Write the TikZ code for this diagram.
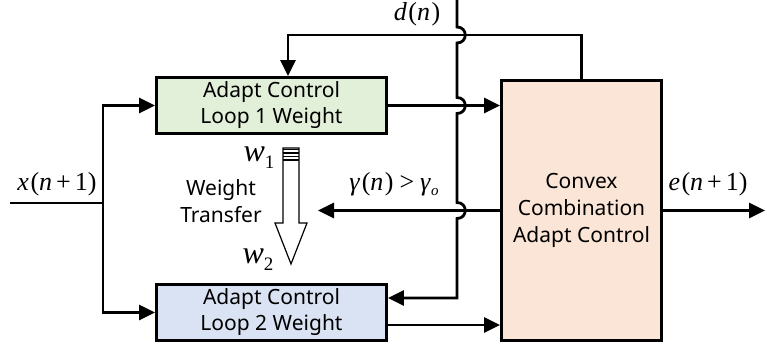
\documentclass[tikz,border=0pt]{standalone}
\usepackage{fontspec}
\setmainfont{Noto Sans}
\newfontfamily\tms{Liberation Serif}
\usetikzlibrary{arrows.meta}
\definecolor{boxgreen}{HTML}{E2F0D9}
\definecolor{boxblue}{HTML}{DAE3F3}
\definecolor{boxorange}{HTML}{FBE5D6}
\newcommand{\opsp}{\hspace{4pt}}
\newcommand{\ksp}{\hspace{1.5pt}}
\begin{document}
\begin{tikzpicture}[x=1pt,y=-1pt, line width=2.8pt,
  box/.style={draw, line width=2.8pt, align=center, inner sep=0pt,
    font=\fontsize{21}{26}\selectfont},
  arr/.style={-{Triangle[length=16pt,width=15pt]}},
  lbl/.style={inner sep=0pt, font=\tms\fontsize{26}{26}\selectfont},
  wlbl/.style={inner sep=0pt, font=\tms\fontsize{32}{32}\selectfont},
  txt/.style={inner sep=0pt, align=center, font=\fontsize{21}{27}\selectfont},
  hollow/.style={line width=1.2pt}
]
\useasboundingbox (0,0) rectangle (767,351);

% boxes
\node[box, fill=boxgreen, minimum width=230pt, minimum height=56pt] (b1) at (271.5,105.5) {Adapt Control\\Loop 1 Weight};
\node[box, fill=boxblue, minimum width=230pt, minimum height=56pt] (b2) at (271.5,312.5) {Adapt Control\\Loop 2 Weight};
\node[box, fill=boxorange, minimum width=160pt, minimum height=260pt,
  font=\fontsize{21}{27}\selectfont] (b3) at (581.5,210.5) {Convex\\Combination\\Adapt Control};

% input x(n+1)
\coordinate (xin) at (10,203);
\coordinate (xj) at (103,203);
\draw (xin) -- (xj);
\draw[arr] (xj) |- (b1.west);
\draw[arr] (xj) |- (b2.west);
\node[lbl] (xl) at (57,184) {\textit{x}\ksp(\textit{n}\opsp+\opsp1)};

% feedback from combiner to box 1
\coordinate (fb) at (288,35);
\draw[arr] (b3.north) |- (fb) -- (fb |- b1.north);

% outputs of the two loops
\draw[arr] (b1.east) -- (b1.east -| b3.west);
\path ([yshift=-12.5pt]b2.east) coordinate (o2);
\draw[arr] (o2) -- (o2 -| b3.west);

% gamma control line
\coordinate (gend) at (318,210.5);
\draw[arr] (b3.west) -- (gend);
\node[lbl] (gl) at (394,184) {\textit{γ}\ksp(\textit{n}\ksp)\hspace{6pt}\textgreater\hspace{6pt}\textit{γ}\raisebox{-5pt}{\fontsize{15}{15}\selectfont\textit{o}}};

% output e(n+1)
\coordinate (eout) at (765,210.5);
\draw[arr] (b3.east) -- (eout);
\node[lbl] (el) at (708,184) {\textit{e}\ksp(\textit{n}\opsp+\opsp1)};

% desired signal d(n) with hops
\coordinate (dtop) at (457,0);
\path ([yshift=14.5pt]b2.east) coordinate (d2);
\draw[arr] (dtop) -- (457,27) .. controls (468,27) and (468,43) .. (457,43)
  -- (457,97.5) .. controls (468,97.5) and (468,113.5) .. (457,113.5)
  -- (457,202.5) .. controls (468,202.5) and (468,218.5) .. (457,218.5)
  -- (457,298) -- (d2);
\node[lbl] (dl) at (417,14) {\textit{d}\ksp(\textit{n}\ksp)};

% weight transfer arrow
\draw[hollow, fill=white] (283,148) -- (299,148) -- (299,223) -- (307,223) -- (291,264)
  -- (275,223) -- (283,223) -- cycle;
\draw[line width=1.8pt] (283,149.5) -- (299,149.5);
\foreach \yy in {153,156.5,160} \draw[hollow] (283,\yy) -- (299,\yy);
\node[wlbl] (w1) at (259,158) {\textit{w}\raisebox{-7pt}{\fontsize{19}{19}\selectfont 1}};
\node[wlbl] (w2) at (258,260) {\textit{w}\raisebox{-7pt}{\fontsize{19}{19}\selectfont 2}};
\node[txt] (wt) at (221,201) {Weight\\Transfer};
\end{tikzpicture}
\end{document}
